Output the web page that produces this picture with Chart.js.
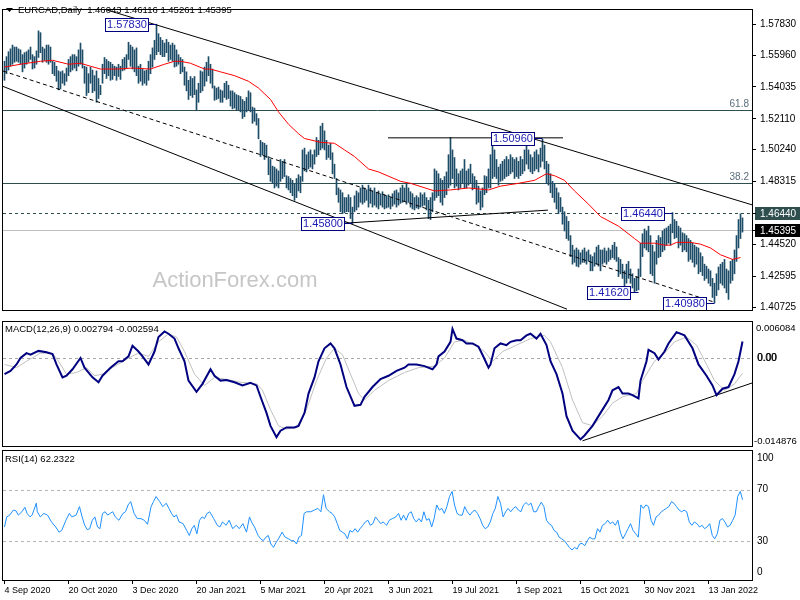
<!DOCTYPE html>
<html>
<head>
<meta charset="utf-8">
<title>EURCAD Daily</title>
<script src="https://cdn.jsdelivr.net/npm/chart.js@4.4.1/dist/chart.umd.min.js"></script>
<style>
  html, body { margin: 0; padding: 0; background: #fff; }
  #wrap { position: relative; width: 800px; height: 600px; overflow: hidden; background: #fff; }
  #wrap canvas { position: absolute; left: 0; }
</style>
</head>
<body>
<div id="wrap">
  <canvas id="mainCanvas" width="800" height="320" style="top:0;width:800px;height:320px"></canvas>
  <canvas id="macdCanvas" width="800" height="128" style="top:320px;width:800px;height:128px"></canvas>
  <canvas id="rsiCanvas" width="800" height="152" style="top:448px;width:800px;height:152px"></canvas>
</div>
<script>
const FONT = '"Liberation Sans", Arial, sans-serif';

// daily bars, 4 Sep 2020 .. 4 Feb 2022 (index 0 = 4 Sep 2020)
const highs = [
  1.5559,1.5587,1.5617,1.5634,1.5657,1.5645,1.5645,1.5634,1.5628,1.5599, // 0
  1.5611,1.5617,1.5628,1.5645,1.5599,1.5587,1.5622,1.5743,1.5732,1.5645, // 10
  1.5634,1.5657,1.5657,1.5645,1.5559,1.5553,1.5529,1.5501,1.5495,1.5501, // 20
  1.5484,1.5518,1.5570,1.5587,1.5599,1.5599,1.5587,1.5628,1.5669,1.5628, // 30
  1.5529,1.5524,1.5484,1.5524,1.5506,1.5472,1.5501,1.5455,1.5414,1.5541, // 40
  1.5582,1.5570,1.5559,1.5553,1.5541,1.5529,1.5524,1.5541,1.5529,1.5570, // 50
  1.5582,1.5599,1.5674,1.5657,1.5645,1.5628,1.5640,1.5529,1.5541,1.5512, // 60
  1.5501,1.5506,1.5559,1.5599,1.5640,1.5686,1.5783,1.5726,1.5703,1.5686, // 70
  1.5669,1.5691,1.5674,1.5657,1.5669,1.5657,1.5628,1.5599,1.5582,1.5570, // 80
  1.5524,1.5495,1.5444,1.5467,1.5455,1.5467,1.5386,1.5426,1.5501,1.5495, // 90
  1.5524,1.5553,1.5587,1.5541,1.5512,1.5409,1.5397,1.5403,1.5386,1.5380, // 100
  1.5426,1.5438,1.5414,1.5380,1.5380,1.5369,1.5357,1.5352,1.5346,1.5328, // 110
  1.5317,1.5340,1.5380,1.5369,1.5282,1.5276,1.5242,1.5213,1.5081,1.5069, // 120
  1.5063,1.5052,1.4983,1.4965,1.4925,1.4919,1.4908,1.4896,1.4965,1.4954, // 130
  1.4965,1.4867,1.4862,1.4850,1.4839,1.4821,1.4850,1.4873,1.4862,1.5023, // 140
  1.5034,1.4994,1.5011,1.5023,1.4994,1.5023,1.5098,1.5081,1.5167,1.5184, // 150
  1.5138,1.5081,1.5052,1.5063,1.5006,1.4937,1.4850,1.4793,1.4781,1.4764, // 160
  1.4735,1.4735,1.4752,1.4735,1.4677,1.4746,1.4775,1.4764,1.4793,1.4810, // 170
  1.4793,1.4781,1.4810,1.4793,1.4775,1.4793,1.4764,1.4775,1.4758,1.4770, // 180
  1.4752,1.4746,1.4752,1.4735,1.4758,1.4775,1.4781,1.4764,1.4793,1.4810, // 190
  1.4793,1.4821,1.4793,1.4770,1.4758,1.4735,1.4746,1.4735,1.4764,1.4752, // 200
  1.4764,1.4735,1.4718,1.4735,1.4764,1.4908,1.4896,1.4879,1.4850,1.4839, // 210
  1.4862,1.4890,1.4994,1.5098,1.5023,1.4977,1.4908,1.4879,1.4896,1.4908, // 220
  1.4965,1.4896,1.4908,1.4937,1.4879,1.4862,1.4839,1.4804,1.4775,1.4793, // 230
  1.4867,1.4862,1.4908,1.4994,1.5087,1.5023,1.4965,1.4919,1.4937,1.4954, // 240
  1.4965,1.4983,1.4965,1.4994,1.4977,1.4965,1.4977,1.4954,1.4983,1.4965, // 250
  1.5023,1.5087,1.5023,1.4994,1.4977,1.5011,1.5023,1.4994,1.5034,1.5087, // 260
  1.5052,1.4954,1.4937,1.4879,1.4833,1.4821,1.4793,1.4764,1.4735,1.4677, // 270
  1.4649,1.4620,1.4591,1.4505,1.4447,1.4418,1.4430,1.4418,1.4401,1.4418, // 280
  1.4430,1.4407,1.4418,1.4389,1.4378,1.4401,1.4436,1.4447,1.4418,1.4418, // 290
  1.4430,1.4412,1.4430,1.4418,1.4447,1.4464,1.4436,1.4372,1.4361,1.4332, // 300
  1.4292,1.4332,1.4349,1.4303,1.4274,1.4246,1.4257,1.4303,1.4459,1.4516, // 310
  1.4545,1.4533,1.4562,1.4505,1.4447,1.4407,1.4476,1.4505,1.4493,1.4533, // 320
  1.4545,1.4551,1.4562,1.4574,1.4644,1.4602,1.4591,1.4562,1.4551,1.4522, // 330
  1.4516,1.4505,1.4487,1.4476,1.4459,1.4447,1.4436,1.4430,1.4401,1.4378, // 340
  1.4332,1.4320,1.4303,1.4292,1.4246,1.4217,1.4274,1.4315,1.4332,1.4343, // 350
  1.4361,1.4303,1.4292,1.4349,1.4361,1.4418,1.4505,1.4602,1.4637,1.4612  // 360
];
const lows = [
  1.5444,1.5484,1.5506,1.5529,1.5541,1.5553,1.5559,1.5553,1.5541,1.5495, // 0
  1.5518,1.5541,1.5553,1.5570,1.5512,1.5518,1.5541,1.5582,1.5611,1.5553, // 10
  1.5565,1.5553,1.5541,1.5553,1.5484,1.5472,1.5438,1.5386,1.5392,1.5426, // 20
  1.5414,1.5438,1.5472,1.5495,1.5506,1.5518,1.5501,1.5529,1.5541,1.5518, // 30
  1.5426,1.5352,1.5369,1.5426,1.5369,1.5380,1.5311,1.5334,1.5357,1.5426, // 40
  1.5484,1.5455,1.5472,1.5444,1.5449,1.5472,1.5444,1.5467,1.5449,1.5501, // 50
  1.5506,1.5518,1.5570,1.5529,1.5512,1.5495,1.5472,1.5426,1.5438,1.5414, // 60
  1.5426,1.5414,1.5444,1.5484,1.5524,1.5570,1.5599,1.5617,1.5599,1.5587, // 70
  1.5587,1.5611,1.5559,1.5570,1.5559,1.5524,1.5529,1.5541,1.5484,1.5495, // 80
  1.5414,1.5380,1.5328,1.5352,1.5340,1.5357,1.5265,1.5311,1.5369,1.5380, // 90
  1.5409,1.5438,1.5472,1.5426,1.5397,1.5323,1.5328,1.5334,1.5311,1.5311, // 100
  1.5340,1.5328,1.5334,1.5288,1.5271,1.5276,1.5265,1.5265,1.5253,1.5213, // 110
  1.5224,1.5253,1.5265,1.5253,1.5184,1.5196,1.5173,1.5090,1.4983,1.4994, // 120
  1.4965,1.4977,1.4873,1.4833,1.4821,1.4793,1.4804,1.4793,1.4833,1.4850, // 130
  1.4862,1.4793,1.4781,1.4764,1.4746,1.4718,1.4735,1.4775,1.4764,1.4833, // 140
  1.4896,1.4890,1.4908,1.4919,1.4908,1.4937,1.4983,1.4994,1.5023,1.5034, // 150
  1.5023,1.4965,1.4977,1.4965,1.4879,1.4850,1.4752,1.4706,1.4649,1.4637, // 160
  1.4643,1.4649,1.4649,1.4608,1.4580,1.4649,1.4660,1.4677,1.4706,1.4695, // 170
  1.4706,1.4718,1.4677,1.4700,1.4677,1.4689,1.4677,1.4666,1.4689,1.4677, // 180
  1.4666,1.4672,1.4677,1.4666,1.4683,1.4695,1.4677,1.4689,1.4700,1.4706, // 190
  1.4712,1.4695,1.4706,1.4677,1.4666,1.4660,1.4672,1.4666,1.4677,1.4683, // 200
  1.4689,1.4660,1.4608,1.4602,1.4649,1.4718,1.4735,1.4746,1.4706,1.4689, // 210
  1.4735,1.4752,1.4793,1.4810,1.4850,1.4793,1.4804,1.4781,1.4793,1.4821, // 220
  1.4793,1.4793,1.4810,1.4821,1.4781,1.4793,1.4695,1.4706,1.4660,1.4677, // 230
  1.4752,1.4764,1.4793,1.4793,1.4850,1.4862,1.4850,1.4810,1.4833,1.4839, // 240
  1.4850,1.4862,1.4867,1.4879,1.4890,1.4850,1.4862,1.4850,1.4867,1.4879, // 250
  1.4896,1.4937,1.4908,1.4890,1.4879,1.4896,1.4908,1.4890,1.4919,1.4954, // 260
  1.4908,1.4821,1.4810,1.4764,1.4735,1.4706,1.4666,1.4637,1.4649,1.4574, // 270
  1.4533,1.4487,1.4476,1.4378,1.4332,1.4343,1.4320,1.4315,1.4332,1.4343, // 280
  1.4343,1.4332,1.4349,1.4292,1.4292,1.4320,1.4332,1.4320,1.4292,1.4332, // 290
  1.4343,1.4332,1.4349,1.4361,1.4372,1.4361,1.4349,1.4257,1.4274,1.4246, // 300
  1.4200,1.4217,1.4246,1.4217,1.4188,1.4162,1.4171,1.4177,1.4257,1.4378, // 310
  1.4430,1.4418,1.4407,1.4274,1.4263,1.4217,1.4332,1.4372,1.4378,1.4407, // 320
  1.4418,1.4447,1.4459,1.4447,1.4522,1.4487,1.4493,1.4430,1.4447,1.4407, // 330
  1.4418,1.4407,1.4349,1.4361,1.4343,1.4315,1.4332,1.4274,1.4286,1.4263, // 340
  1.4234,1.4246,1.4217,1.4200,1.4131,1.4098,1.4142,1.4177,1.4217,1.4205, // 350
  1.4188,1.4159,1.4119,1.4217,1.4234,1.4274,1.4349,1.4430,1.4487,1.4526  // 360
];

// red moving average, [bar index, value]
const maPoints = [[0,1.5524],[8,1.5541],[18,1.5559],[24,1.5565],[32,1.5541],[38,1.5547],[43,1.5529],[48,1.5512],[56,1.5512],[64,1.5518],[73,1.5512],[80,1.5541],[85,1.5559],[88,1.5559],[93,1.5547],[100,1.5512],[103,1.5512],[108,1.5495],[115,1.5472],[122,1.5438],[127,1.5397],[133,1.5328],[137,1.5253],[142,1.5178],[147,1.5121],[150,1.5092],[158,1.5069],[165,1.5063],[170,1.5023],[175,1.4983],[182,1.4908],[187,1.4890],[198,1.4833],[203,1.4821],[215,1.4775],[223,1.4781],[232,1.4793],[242,1.4781],[248,1.4804],[257,1.4821],[265,1.4839],[271,1.4879],[275,1.4867],[280,1.4839],[285,1.4775],[292,1.4695],[298,1.4620],[307,1.4562],[315,1.4487],[318,1.4459],[325,1.4459],[330,1.4447],[333,1.4447],[336,1.4464],[343,1.4464],[348,1.4453],[353,1.4430],[358,1.4389],[364,1.4361],[368,1.4372]];

const macdPoints = [[0,-0.00273],[3,-0.00218],[6,-0.00109],[8,0],[11,0.00082],[13,0.00055],[17,0.00120],[21,0.00098],[24,0.00066],[26,-0.00109],[29,-0.00328],[31,-0.00300],[34,-0.00191],[38,0],[40,-0.00164],[44,-0.00328],[47,-0.00410],[49,-0.00300],[53,-0.00164],[57,-0.00055],[59,-0.00055],[62,0.00027],[64,0.00207],[67,0.00109],[69,0.00027],[72,-0.00109],[75,0.00109],[77,0.00355],[80,0.00448],[82,0.00410],[85,0.00328],[87,0.00164],[90,-0.00055],[92,-0.00382],[96,-0.00573],[99,-0.00437],[103,-0.00191],[105,-0.00300],[108,-0.00382],[111,-0.00371],[115,-0.00410],[119,-0.00464],[123,-0.00420],[126,-0.00464],[128,-0.00655],[131,-0.00928],[133,-0.01147],[136,-0.01338],[138,-0.01229],[141,-0.01174],[145,-0.01174],[147,-0.01147],[150,-0.00928],[152,-0.00601],[155,-0.00328],[157,-0.00055],[160,0.00164],[163,0.00246],[165,0.00164],[168,-0.00109],[171,-0.00491],[175,-0.00808],[178,-0.00792],[180,-0.00655],[184,-0.00491],[188,-0.00355],[192,-0.00300],[196,-0.00218],[200,-0.00164],[202,-0.00109],[206,-0.00109],[210,-0.00137],[214,-0.00191],[216,-0.00109],[217,0.00027],[220,0.00109],[223,0.00273],[224,0.00491],[226,0.00328],[229,0.00300],[231,0.00246],[234,0.00246],[237,0.00191],[239,0.00055],[242,-0.00164],[243,-0.00109],[245,0.00164],[248,0.00246],[251,0.00218],[253,0.00273],[256,0.00300],[258,0.00300],[261,0.00382],[263,0.00410],[266,0.00328],[268,0.00410],[271,0.00218],[273,-0.00055],[276,-0.00273],[279,-0.00601],[281,-0.00983],[284,-0.01229],[288,-0.01376],[290,-0.01310],[294,-0.01147],[298,-0.00928],[302,-0.00710],[304,-0.00546],[307,-0.00491],[309,-0.00601],[312,-0.00601],[314,-0.00628],[317,-0.00683],[318,-0.00382],[321,-0.00055],[322,0.00137],[325,0.00082],[327,-0.00027],[330,0.00109],[332,0.00246],[336,0.00437],[340,0.00382],[344,0.00164],[347,-0.00109],[351,-0.00300],[354,-0.00464],[356,-0.00628],[359,-0.00519],[362,-0.00491],[365,-0.00273],[367,-0.00055],[369,0.00279]];

const signalPoints = [[0,-0.00109],[6,-0.00164],[11,-0.00055],[18,0.00082],[24,0.00082],[27,-0.00055],[31,-0.00273],[36,-0.00246],[41,-0.00164],[45,-0.00300],[49,-0.00273],[54,-0.00164],[62,0],[67,0.00082],[72,0.00027],[77,0.00273],[82,0.00410],[86,0.00355],[90,0.00109],[95,-0.00273],[100,-0.00464],[105,-0.00328],[110,-0.00355],[118,-0.00410],[126,-0.00437],[129,-0.00546],[133,-0.00874],[137,-0.01147],[141,-0.01201],[146,-0.01174],[151,-0.00874],[156,-0.00382],[161,0],[165,0.00164],[169,0.00055],[173,-0.00273],[177,-0.00601],[180,-0.00710],[185,-0.00546],[192,-0.00382],[200,-0.00246],[207,-0.00164],[215,-0.00137],[220,0],[225,0.00273],[230,0.00300],[235,0.00218],[240,0.00109],[244,-0.00055],[249,0.00109],[256,0.00218],[263,0.00328],[270,0.00382],[273,0.00273],[279,-0.00164],[284,-0.00710],[289,-0.01092],[294,-0.01147],[299,-0.00983],[304,-0.00764],[309,-0.00655],[316,-0.00601],[319,-0.00382],[325,-0.00055],[330,0.00082],[335,0.00273],[341,0.00355],[346,0.00218],[351,-0.00109],[355,-0.00382],[360,-0.00546],[365,-0.00437],[369,-0.00259]];

const rsiPoints = [[0,41.1],[1.1,48.9],[2.6,50.3],[4.4,54.2],[5.7,53.7],[6.9,50.3],[8.7,52.9],[10.2,56.3],[11.3,51.6],[12.8,48.9],[13.8,50.3],[15.9,59.5],[16.4,52.9],[17.9,48.9],[19.7,51.6],[21.5,50.3],[23.5,45.0],[25.6,41.1],[27.3,37.1],[28.6,38.4],[30.7,46.3],[32.4,51.6],[33.7,48.9],[35.8,50.3],[37.5,56.9],[38.8,48.9],[40.1,42.4],[41.4,39.0],[42.6,39.8],[43.9,46.3],[45.2,48.9],[46.5,41.1],[47.7,39.8],[49.0,51.6],[50.3,52.9],[51.6,50.3],[52.8,51.6],[54.1,52.9],[55.4,48.9],[57.2,46.3],[59.2,51.6],[60.5,52.9],[61.8,58.2],[63.1,60.8],[64.8,51.6],[66.4,47.6],[68.2,47.6],[69.9,46.3],[71.5,43.2],[73.3,56.9],[74.5,60.8],[75.8,64.7],[77.6,60.8],[79.1,56.9],[80.9,59.5],[82.2,55.5],[83.5,51.6],[84.7,48.9],[86.0,50.3],[87.3,45.0],[89.3,43.7],[91.1,38.4],[92.4,34.5],[93.7,39.8],[94.9,42.4],[96.2,35.8],[97.5,46.3],[98.8,48.9],[100.0,47.6],[101.3,51.6],[102.6,52.9],[104.6,47.6],[106.4,42.4],[107.7,41.1],[109.0,45.0],[110.8,42.4],[112.3,46.3],[114.1,39.8],[115.9,42.4],[117.4,39.8],[119.2,43.7],[121.0,37.1],[122.5,48.9],[123.5,45.0],[125.0,41.1],[126.8,34.5],[128.1,31.9],[129.4,30.5],[130.7,33.2],[131.9,34.5],[133.2,27.9],[134.5,25.3],[135.8,29.2],[137.0,31.9],[138.8,37.1],[140.3,33.2],[142.1,31.9],[143.4,30.5],[144.7,30.5],[146.0,27.9],[147.2,33.2],[148.5,34.5],[149.8,51.6],[151.1,52.9],[153.1,52.9],[154.9,54.2],[156.7,55.5],[158.2,52.9],[159.5,66.1],[160.8,55.5],[162.5,52.9],[163.8,51.6],[165.1,48.9],[166.4,43.7],[167.6,38.4],[168.9,37.1],[170.2,35.8],[171.5,31.9],[172.7,38.4],[174.0,37.1],[175.3,39.8],[176.6,37.1],[177.8,39.8],[179.1,42.4],[180.4,45.0],[181.7,46.3],[182.9,42.4],[184.2,43.7],[185.5,48.9],[186.8,46.3],[188.1,43.7],[189.3,45.0],[191.1,42.4],[192.4,46.3],[193.9,47.6],[195.7,48.9],[197.0,51.6],[198.3,46.3],[199.5,50.3],[200.8,46.3],[202.1,51.6],[203.4,52.9],[204.6,47.6],[205.9,45.0],[207.2,47.6],[208.5,45.0],[209.7,52.9],[211.0,46.3],[212.3,47.6],[213.6,41.1],[214.8,47.6],[216.1,58.2],[217.4,54.2],[218.7,55.5],[219.9,51.6],[221.2,56.9],[222.5,64.7],[223.8,68.7],[225.0,58.2],[226.3,51.6],[227.6,50.3],[228.9,50.3],[230.1,56.9],[231.4,52.9],[232.7,50.3],[234.0,52.9],[235.2,54.2],[236.5,51.6],[237.8,47.6],[239.1,42.4],[240.3,39.8],[241.6,41.1],[242.9,45.0],[244.2,51.6],[245.4,55.5],[246.7,64.7],[248.0,59.5],[249.3,48.9],[250.6,52.9],[251.8,55.5],[253.1,52.9],[254.4,55.5],[255.6,56.9],[256.9,54.2],[258.2,52.9],[259.5,58.2],[260.8,60.0],[262.0,58.2],[263.3,59.5],[264.6,52.9],[265.9,52.9],[267.1,56.9],[268.4,60.3],[269.7,56.9],[271.0,46.3],[272.2,43.7],[273.5,42.4],[274.8,38.4],[276.1,37.1],[277.3,33.2],[278.6,31.9],[279.9,30.5],[281.2,27.9],[282.4,25.3],[283.7,23.2],[285.0,25.3],[286.3,24.0],[287.5,27.9],[288.8,28.4],[290.1,26.6],[291.4,30.5],[292.6,33.2],[293.9,31.9],[295.2,31.9],[296.5,39.8],[297.7,37.1],[299.0,42.4],[300.3,43.7],[301.6,46.3],[302.8,43.7],[304.1,45.0],[305.4,42.4],[306.7,46.3],[307.9,37.1],[309.2,31.9],[310.5,35.8],[311.8,39.8],[313.0,43.7],[314.3,38.4],[315.6,35.8],[316.9,33.2],[318.2,58.2],[319.4,55.5],[320.7,58.2],[322.0,56.9],[323.3,46.3],[324.5,42.4],[325.8,48.9],[327.1,50.3],[328.4,52.9],[329.6,54.2],[330.9,55.5],[332.2,56.9],[333.5,60.8],[334.7,59.5],[336.0,56.9],[337.3,54.2],[338.6,52.9],[339.8,54.2],[341.1,52.9],[342.4,45.0],[343.7,42.4],[344.9,45.0],[346.2,43.7],[347.5,41.1],[348.8,42.4],[350.0,39.8],[351.3,41.1],[352.6,43.7],[353.9,34.5],[355.1,31.9],[356.4,35.8],[357.7,46.3],[359.0,47.6],[360.2,45.0],[361.5,41.1],[362.8,42.4],[364.1,46.3],[365.3,50.3],[366.6,64.7],[367.9,68.7],[369.0,62.2]];

const dateTickIdx = [0, 32, 64, 96, 128, 160, 192, 224, 256, 288, 320, 352];
const dateTickLabels = ['4 Sep 2020', '20 Oct 2020', '3 Dec 2020', '20 Jan 2021', '5 Mar 2021', '20 Apr 2021',
  '3 Jun 2021', '19 Jul 2021', '1 Sep 2021', '15 Oct 2021', '30 Nov 2021', '13 Jan 2022'];

const priceTicks = [1.5783, 1.5596, 1.54035, 1.5211, 1.5024, 1.48315, 1.4452, 1.42595, 1.40725];
const fibValues = [1.5263, 1.4821];
const fibLabels = ['61.8', '38.2'];
const prevHigh = 1.4644;
const lastPrice = 1.45395;
const ohlcToday = [1.46043, 1.46116, 1.45261, 1.45395];

// swing labels: bar index and price
const tagIdx = [76, 269, 174, 334, 317, 355];
const tagVals = [1.5783, 1.5096, 1.4580, 1.4644, 1.4162, 1.4098];

// trend lines, [bar index, value]
const upperLine = [[51.25, 1.5869], [373.75, 1.4691]];
const lowerLine = [[-0.75, 1.5407], [281.25, 1.4060]];
const midLine = [[-0.75, 1.5500], [355.25, 1.4101]];
const topLine = [[191.75, 1.5096], [279.25, 1.5096]];
const baseLine = [[170.25, 1.4580], [271.75, 1.4659]];
const macdTrend = [[289, -0.0140], [374, -0.0042]];

const macdRange = [-0.014876, 0.006084];
const macdLast = [0.002794, -0.002594];
const rsiLast = 62.2322;
const rsiLevels = [70, 30];

const X_MIN = -0.75, X_MAX = 373.75;
const xy = pts => pts.map(p => ({ x: p[0], y: p[1] }));

function trend(pts, dash, color) {
  return { type: 'line', data: xy(pts), borderColor: color || '#000', borderWidth: 1,
    borderDash: dash || [], pointRadius: 0, tension: 0, order: 2 };
}

function frame(chart) {
  const { ctx, chartArea: a } = chart;
  ctx.save();
  ctx.strokeStyle = '#000';
  ctx.lineWidth = 1;
  ctx.strokeRect(a.left - 0.5, a.top - 0.5, a.right - a.left + 1, a.bottom - a.top + 1);
  ctx.restore();
}

function hLine(chart, v, color, dash) {
  const { ctx, chartArea: a, scales: { y } } = chart;
  const py = Math.round(y.getPixelForValue(v)) + 0.5;
  ctx.save();
  ctx.strokeStyle = color;
  ctx.lineWidth = 1;
  ctx.setLineDash(dash || []);
  ctx.beginPath();
  ctx.moveTo(a.left, py);
  ctx.lineTo(a.right, py);
  ctx.stroke();
  ctx.restore();
  return py;
}

function sideLabel(ctx, text, x, y, size) {
  ctx.save();
  ctx.fillStyle = '#000';
  ctx.font = (size || 10) + 'px ' + FONT;
  ctx.textAlign = 'left';
  ctx.textBaseline = 'middle';
  ctx.fillText(text, x, y);
  ctx.restore();
}

function baseOpts() {
  return {
    responsive: false, animation: false, devicePixelRatio: 1, events: [],
    plugins: { legend: { display: false }, tooltip: { enabled: false } }
  };
}

const hiddenY = (min, max) => ({
  position: 'right', min: min, max: max,
  afterFit: s => { s.width = 48; },
  ticks: { display: false }, grid: { display: false }, border: { display: false }
});

// ---------- price panel ----------
const mainDecor = {
  id: 'mainDecor',
  beforeDatasetsDraw(chart) {
    const { ctx, chartArea: a } = chart;
    ctx.save();
    ctx.fillStyle = '#c6c6c6';
    ctx.font = '22px ' + FONT;
    ctx.textAlign = 'center';
    ctx.textBaseline = 'alphabetic';
    ctx.fillText('ActionForex.com', 235, 287);
    ctx.restore();

    fibValues.forEach((v, k) => {
      const py = hLine(chart, v, '#2f4f4f');
      ctx.save();
      ctx.fillStyle = '#5a6e7c';
      ctx.font = '10px ' + FONT;
      ctx.textAlign = 'right';
      ctx.textBaseline = 'bottom';
      ctx.fillText(fibLabels[k], a.right - 3, py - 1);
      ctx.restore();
    });
    hLine(chart, prevHigh, '#2f4f4f', [3, 3]);
    hLine(chart, lastPrice, '#c0c0c0');
  },
  afterDatasetsDraw(chart) {
    const { ctx, scales: { x, y } } = chart;
    ctx.save();
    ctx.font = '11px ' + FONT;
    ctx.textAlign = 'center';
    ctx.textBaseline = 'middle';
    tagIdx.forEach((idx, k) => {
      const ax = x.getPixelForValue(idx);
      const ay = Math.round(y.getPixelForValue(tagVals[k]));
      const w = 43, h = 13;
      const right = Math.round(ax - 9);
      const left = right - w;
      ctx.strokeStyle = '#000080';
      ctx.lineWidth = 1;
      ctx.beginPath();
      ctx.moveTo(right, ay + 0.5);
      ctx.lineTo(ax, ay + 0.5);
      ctx.stroke();
      ctx.fillStyle = '#fff';
      ctx.fillRect(left, ay - 6, w, h);
      ctx.strokeRect(left + 0.5, ay - 6 + 0.5, w, h);
      ctx.fillStyle = '#1c1cb4';
      ctx.fillText(tagVals[k].toFixed(5), left + w / 2 + 0.5, ay + 1);
    });
    ctx.restore();
  },
  afterDraw(chart) {
    const { ctx, chartArea: a, scales: { y } } = chart;
    frame(chart);
    // highlighted price boxes on the axis
    [[prevHigh, '#2f4f4f'], [lastPrice, '#000']].forEach(([v, bg]) => {
      const py = Math.round(y.getPixelForValue(v));
      ctx.save();
      ctx.fillStyle = bg;
      ctx.fillRect(a.right + 3, py - 6, 47, 13);
      ctx.strokeStyle = '#000';
      ctx.beginPath();
      ctx.moveTo(a.right, py + 0.5);
      ctx.lineTo(a.right + 4, py + 0.5);
      ctx.stroke();
      ctx.fillStyle = '#fff';
      ctx.font = '10px ' + FONT;
      ctx.textAlign = 'left';
      ctx.textBaseline = 'middle';
      ctx.fillText(v.toFixed(5), a.right + 8, py + 1);
      ctx.restore();
    });
    // title
    ctx.save();
    ctx.fillStyle = '#000';
    ctx.beginPath();
    ctx.moveTo(6, 8); ctx.lineTo(13, 8); ctx.lineTo(9.5, 12); ctx.closePath();
    ctx.fill();
    ctx.font = '9.5px ' + FONT;
    ctx.textBaseline = 'middle';
    ctx.fillText('EURCAD,Daily  ' + ohlcToday.map(v => v.toFixed(5)).join(' '), 18, 10);
    ctx.restore();
  }
};

new Chart(document.getElementById('mainCanvas'), {
  type: 'bar',
  data: {
    datasets: [
      { type: 'bar', data: highs.map((h, i) => ({ x: i, y: [lows[i], h] })),
        backgroundColor: '#1d4c69', barThickness: 1, borderWidth: 0, order: 3 },
      { type: 'line', data: xy(maPoints), borderColor: '#ff0000', borderWidth: 1,
        pointRadius: 0, tension: 0, order: 1 },
      trend(upperLine), trend(lowerLine), trend(midLine, [4, 3]), trend(topLine), trend(baseLine)
    ]
  },
  options: Object.assign(baseOpts(), {
    layout: { padding: { left: 3, right: 0, top: 3, bottom: 2 } },
    scales: {
      x: { type: 'linear', min: X_MIN, max: X_MAX, offset: false, display: false },
      y: {
        position: 'right', min: 1.4055, max: 1.5869, beginAtZero: false,
        afterBuildTicks: s => { s.ticks = priceTicks.map(v => ({ value: v })); },
        afterFit: s => { s.width = 48; },
        ticks: { callback: v => Number(v).toFixed(5), color: '#000', autoSkip: false,
          font: { family: FONT, size: 10 }, padding: 4 },
        grid: { drawOnChartArea: false, drawTicks: true, tickLength: 4, color: '#000' },
        border: { display: false }
      }
    }
  }),
  plugins: [mainDecor]
});

// ---------- MACD panel ----------
const macdDecor = {
  id: 'macdDecor',
  beforeDatasetsDraw(chart) {
    hLine(chart, 0, '#a8a8a8', [3, 3]);
  },
  afterDraw(chart) {
    const { ctx, chartArea: a, scales: { y } } = chart;
    frame(chart);
    ctx.save();
    ctx.fillStyle = '#000';
    ctx.font = '9.5px ' + FONT;
    ctx.textBaseline = 'middle';
    ctx.fillText('MACD(12,26,9) ' + macdLast[0].toFixed(6) + ' ' + macdLast[1].toFixed(6), 5, a.top + 7);
    ctx.restore();
    const x0 = a.right + 4;
    sideLabel(ctx, macdRange[1].toFixed(6), x0, a.top + 6, 9.5);
    const pz = y.getPixelForValue(0);
    sideLabel(ctx, '0.00', x0 + 1, pz);
    sideLabel(ctx, '0.00', x0 + 1.6, pz);
    sideLabel(ctx, macdRange[0].toFixed(6), a.right + 2, a.bottom - 5, 9.5);
  }
};

new Chart(document.getElementById('macdCanvas'), {
  type: 'line',
  data: {
    datasets: [
      { data: xy(signalPoints), borderColor: '#c0c0c0', borderWidth: 1, pointRadius: 0, tension: 0, order: 3 },
      { data: xy(macdPoints), borderColor: '#000080', borderWidth: 2, pointRadius: 0, tension: 0, order: 1 },
      trend(macdTrend)
    ]
  },
  options: Object.assign(baseOpts(), {
    layout: { padding: { left: 3, right: 0, top: 2, bottom: 2 } },
    scales: {
      x: { type: 'linear', min: X_MIN, max: X_MAX, display: false },
      y: hiddenY(macdRange[0], macdRange[1])
    }
  }),
  plugins: [macdDecor]
});

// ---------- RSI panel ----------
const rsiDecor = {
  id: 'rsiDecor',
  beforeDatasetsDraw(chart) {
    rsiLevels.forEach(v => hLine(chart, v, '#b4b4b4', [3, 3]));
  },
  afterDraw(chart) {
    const { ctx, chartArea: a, scales: { y } } = chart;
    frame(chart);
    ctx.save();
    ctx.fillStyle = '#000';
    ctx.font = '9.5px ' + FONT;
    ctx.textBaseline = 'middle';
    ctx.fillText('RSI(14) ' + rsiLast.toFixed(4), 5, a.top + 8);
    ctx.restore();
    const x0 = a.right + 5;
    sideLabel(ctx, '100', x0, a.top + 7);
    rsiLevels.forEach(v => sideLabel(ctx, String(v), x0, y.getPixelForValue(v)));
    sideLabel(ctx, '0', x0, a.bottom - 8);
  }
};

new Chart(document.getElementById('rsiCanvas'), {
  type: 'line',
  data: {
    datasets: [
      { data: xy(rsiPoints), borderColor: '#1e90ff', borderWidth: 1, pointRadius: 0, tension: 0 }
    ]
  },
  options: Object.assign(baseOpts(), {
    layout: { padding: { left: 3, right: 0, top: 3, bottom: 1 } },
    scales: {
      x: {
        type: 'linear', min: X_MIN, max: X_MAX,
        afterBuildTicks: s => { s.ticks = dateTickIdx.map(v => ({ value: v })); },
        afterFit: s => { s.height = 19; },
        ticks: {
          callback: v => { const k = dateTickIdx.indexOf(v); return k >= 0 ? dateTickLabels[k] : ''; },
          align: 'start', autoSkip: false, maxRotation: 0, color: '#000', padding: 1,
          font: { family: FONT, size: 9 }
        },
        grid: { drawOnChartArea: false, drawTicks: true, tickLength: 4, color: '#000' },
        border: { display: false }
      },
      y: hiddenY(0, 100)
    }
  }),
  plugins: [rsiDecor]
});
</script>
</body>
</html>
